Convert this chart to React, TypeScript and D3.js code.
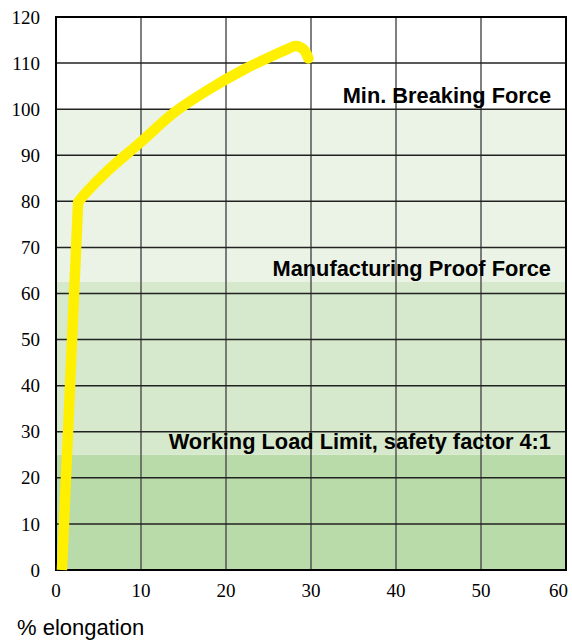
import * as d3 from "d3";

const xTicks = [0, 10, 20, 30, 40, 50, 60];
const yTicks = [0, 10, 20, 30, 40, 50, 60, 70, 80, 90, 100, 110, 120];

// force bands (lower, upper) and their labels
const bandLows = [0, 25, 62.5];
const bandHighs = [25, 62.5, 100];
const bandColors = ["#b8dba9", "#d6e9cc", "#ebf3e6"];
const bandLabels = ["Working Load Limit, safety factor 4:1", "Manufacturing Proof Force", "Min. Breaking Force"];

// load–elongation curve: elastic part (straight) then plastic part (smooth)
const elasticElong = [0.7, 2.6];
const elasticForce = [0, 79.8];
const plasticElong = [2.6, 3.5, 6, 10, 14, 18, 22, 25.5, 27.3, 28.2, 29.1, 29.7];
const plasticForce = [79.8, 81.8, 86.5, 92.9, 99.4, 104.3, 108.5, 111.6, 113.1, 113.7, 113.0, 111.0];

const W = 572;
const H = 641;
const margin = { top: 17, right: 6, bottom: 71, left: 56 };
const serif = "'Times New Roman', Times, 'Liberation Serif', 'DejaVu Serif', 'Noto Serif', serif";
const sans = "'Liberation Sans', Arial, sans-serif";

export default function App() {
  const x = d3.scaleLinear().domain([0, 60]).range([margin.left, W - margin.right]);
  const y = d3.scaleLinear().domain([0, 120]).range([H - margin.bottom, margin.top]);

  const makeLine = (xs: number[], ys: number[], curve: d3.CurveFactory) =>
    d3.line<number>()
      .x((_, i) => x(xs[i]))
      .y((_, i) => y(ys[i]))
      .curve(curve)(xs) ?? "";

  return (
    <svg width={W} height={H} style={{ position: "absolute", left: 0, top: 0 }}>
      <rect width={W} height={H} fill="#fff" />
      {bandLows.map((lo, i) => (
        <rect key={i} x={x(0)} width={x(60) - x(0)} y={y(bandHighs[i])} height={y(lo) - y(bandHighs[i])} fill={bandColors[i]} />
      ))}
      {xTicks.slice(1, -1).map(t => (
        <line key={t} x1={x(t)} x2={x(t)} y1={y(0)} y2={y(120)} stroke="#555" strokeWidth={1.5} />
      ))}
      {yTicks.slice(1, -1).map(t => (
        <line key={t} x1={x(0)} x2={x(60)} y1={y(t)} y2={y(t)} stroke="#222" strokeWidth={1.5} />
      ))}
      <rect x={x(0)} y={y(120)} width={x(60) - x(0)} height={y(0) - y(120)} fill="none" stroke="#000" strokeWidth={2} />
      {bandLabels.map((lab, i) => (
        <text key={i} x={551} y={y(bandHighs[i]) - 6} textAnchor="end"
          fontFamily={sans} fontWeight="bold" fontSize={21.8} fill="#000">
          {lab}
        </text>
      ))}
      <path d={makeLine(elasticElong, elasticForce, d3.curveLinear)} fill="none" stroke="#ffef00" strokeWidth={10.5} strokeLinejoin="round" />
      <path d={makeLine(plasticElong, plasticForce, d3.curveCatmullRom.alpha(0.5))} fill="none" stroke="#ffef00" strokeWidth={10.5} strokeLinejoin="round" strokeLinecap="round" />
      {yTicks.map(t => (
        <text key={t} x={40} y={y(t)} dy="0.35em" textAnchor="end"
          style={{ fontFamily: serif }} fontSize={19} fill="#000">{t}</text>
      ))}
      {xTicks.map((t, i) => (
        <text key={t} x={i === xTicks.length - 1 ? 568 : x(t)} y={597} textAnchor={i === xTicks.length - 1 ? "end" : "middle"}
          style={{ fontFamily: serif }} fontSize={19} fill="#000">{t}</text>
      ))}
      <text x={17} y={635} fontFamily={sans} fontSize={22} fill="#000">% elongation</text>
    </svg>
  );
}
